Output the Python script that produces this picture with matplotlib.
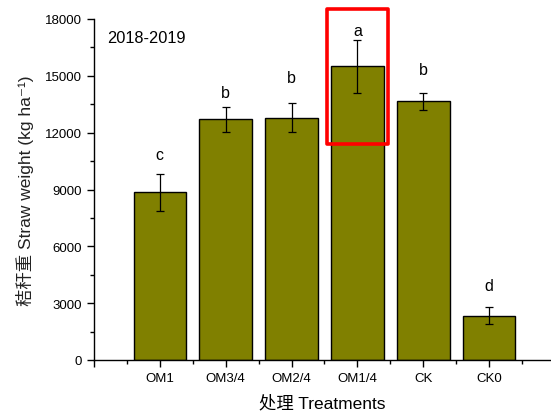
import matplotlib
matplotlib.use("Agg")
import matplotlib.pyplot as plt
from matplotlib.patches import Rectangle
from matplotlib.ticker import MultipleLocator, FixedLocator

plt.rcParams['font.family'] = ['Liberation Sans', 'Noto Sans CJK SC', 'DejaVu Sans']

treatments = ["OM1", "OM3/4", "OM2/4", "OM1/4", "CK", "CK0"]
straw_weight = [8850, 12700, 12780, 15500, 13670, 2340]
std_err = [970, 650, 770, 1400, 450, 450]
letters = ["c", "b", "b", "a", "b", "d"]
letter_heights = [10610, 13880, 14680, 17160, 15100, 3700]

fig = plt.figure(figsize=(5.51, 4.14), dpi=100)
ax = fig.add_axes([94 / 551, 53 / 414, (551 - 94) / 551, 341 / 414])

x = list(range(1, len(treatments) + 1))
ax.bar(x, straw_weight, width=0.8, color="#808000", edgecolor="black", linewidth=1.0, zorder=2)
ax.errorbar(x, straw_weight, yerr=std_err, fmt="none", ecolor="black",
            elinewidth=0.9, capsize=3, capthick=0.9, zorder=3)

for xi, h, lab in zip(x, letter_heights, letters):
    ax.text(xi, h, lab, ha="center", va="baseline", fontsize=11.5)

# highlight box around the top treatment
ax.add_patch(Rectangle((3.54, 11400), 0.92, 7150, fill=False, edgecolor="#ff0000",
                       linewidth=2.6, joinstyle="round", zorder=4, clip_on=False))

ax.text(0.2, 17000, "2018-2019", fontsize=11.8, ha="left", va="center")

ax.set_xlim(0, 6.94)
ax.set_ylim(0, 18000)
ax.xaxis.set_major_locator(FixedLocator(range(0, 7)))
ax.set_xticklabels([""] + treatments)
ax.xaxis.set_minor_locator(FixedLocator([i + 0.5 for i in range(0, 7)]))
ax.yaxis.set_major_locator(MultipleLocator(3000))
ax.yaxis.set_minor_locator(MultipleLocator(1500))

for s in ("top", "right"):
    ax.spines[s].set_visible(False)
for s in ("left", "bottom"):
    ax.spines[s].set_linewidth(1.0)

ax.tick_params(axis="both", which="major", direction="out", length=5, width=1, labelsize=9.5)
ax.tick_params(axis="both", which="minor", direction="out", length=3, width=1)

ax.set_xlabel("处理 Treatments", fontsize=12.5, labelpad=7)
ax.set_ylabel("秸秆重 Straw weight (kg ha⁻¹)", fontsize=12.5, labelpad=8, color="#222222")

fig.savefig("out.png", dpi=100)
